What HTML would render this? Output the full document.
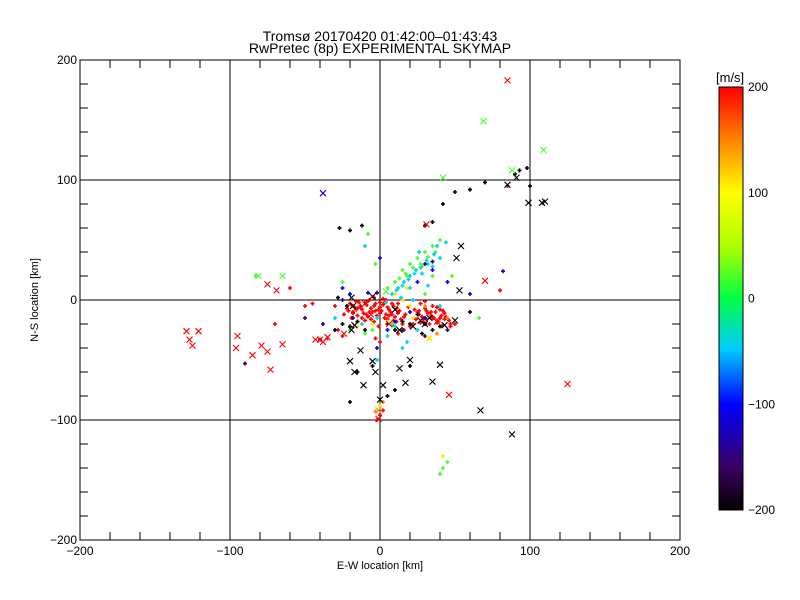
<!DOCTYPE html>
<html><head><meta charset="utf-8"><style>
body{margin:0;background:#fff;}
svg{display:block;font-family:"Liberation Sans","DejaVu Sans",sans-serif;}
</style></head><body>
<svg id="chart" width="800" height="600" viewBox="0 0 800 600">
<defs>
<linearGradient id="cb" x1="0" y1="1" x2="0" y2="0">
<stop offset="0" stop-color="#000"/><stop offset="0.1" stop-color="#3a0060"/><stop offset="0.25" stop-color="#0000ff"/>
<stop offset="0.38" stop-color="#00ccff"/><stop offset="0.5" stop-color="#00ff44"/><stop offset="0.62" stop-color="#aaff00"/>
<stop offset="0.75" stop-color="#ffff00"/><stop offset="0.87" stop-color="#ff8800"/><stop offset="1" stop-color="#ff0000"/>
</linearGradient>
</defs>
<text x="380" y="41" font-size="14" text-anchor="middle">Tromsø 20170420 01:42:00–01:43:43</text>
<text x="380" y="53" font-size="14" text-anchor="middle">RwPretec (8p) EXPERIMENTAL SKYMAP</text>
<g id="axes"></g>
<g id="marks"></g>
<rect x="80" y="60" width="600" height="480" fill="none" stroke="#000" stroke-width="1"/>
<text x="380" y="569" font-size="11" text-anchor="middle">E-W location [km]</text>
<text x="0" y="0" font-size="11" text-anchor="middle" transform="translate(38,300) rotate(-90)">N-S location [km]</text>
<rect x="719" y="87" width="24" height="423" fill="url(#cb)" stroke="#000"/>
<text x="716" y="82" font-size="13">[m/s]</text>
<g id="cbticks"></g>
</svg>
<script>
const xTicks=[-200,-100,0,100,200];
const yTicks=[-200,-100,0,100,200];
const cbTicks=[200,100,0,-100,-200];
const crossX=[85,69,109,42,88,91,85,99,110,108,-38,31,54,51,70,-81,-65,-75,-69,-129,-127,-125,-121,-95,-96,-85,-79,-75,-73,-65,-43,-40,-38,-35,125,46,67,88,-1,-1,33,-13,-17,-20,-5,-3,2,13,17,35,40,20,-17,-19,13,27,33,43,53,-11,0,-19,-5,10,50,4,-10,-6,6,22,30,38,-18,-24];
const crossY=[183,149,125,102,108,102,96,81,82,81,89,63,45,35,16,20,20,13,8,-26,-33,-38,-26,-30,-40,-46,-38,-43,-58,-37,-33,-33,-35,-31,-70,-79,-92,-112,-92,-99,-32,-42,-60,-51,-51,-60,-71,-57,-69,-68,-54,-50,-21,-25,-25,-17,-15,-21,8,-71,-83,2,3,-8,-17,7,-3,-12,-20,-22,-20,-18,-5,-28];
const crossV=[200,20,20,20,20,-200,-200,-200,-200,-200,-110,200,-200,-200,200,20,20,200,200,200,200,200,200,200,200,200,200,200,200,200,200,200,200,200,200,200,-200,-200,150,200,110,-200,-200,-200,-200,-200,-200,-200,-200,-200,-200,-200,-200,-200,-200,-200,-200,-200,-200,-200,-200,-200,-200,-200,-200,20,200,200,200,-200,-200,200,-200,200];
const dotX=[-20,-17,-14,-12,-9,-6,-3,0,3,6,9,12,-18,-15,-11,-8,-5,-2,1,4,7,10,13,-16,-7,2,-22,-24,-10,-4,5,14,17,19,-1,8,15,-13,-19,11,
25,28,31,34,37,40,43,46,29,33,38,42,47,24,36,27,30,35,40,22,
-35,-40,-25,-3,0,-2,2,50,20,16,-30,-45,-60,-70,80,85,-28,0,12,-50,
-19,-16,-13,-10,-7,-4,-1,2,5,8,11,-21,-18,-15,-12,-9,-6,-3,0,3,6,9,-8,-4,0,4,8,12,16,26,29,32,35,38,41,44,27,31,35,39,43,47,23,26,30,34,38,42,
10,15,-5,20,25,33,0,5,-15,18,22,42,
30,45,-3,38,2,
10,15,20,25,30,35,40,28,18,5,12,-10,-5,-20,42,-8,45,30,-25,-83,66,48,-3,40,35,8,13,17,22,27,32,37,
8,12,16,20,24,28,32,36,40,20,14,4,-2,10,25,40,15,-12,-2,32,22,38,44,26,-10,5,18,-30,11,15,19,23,27,31,35,
35,25,-2,30,10,-25,20,5,-8,60,82,-38,-20,0,45,
-18,-25,30,35,15,-50,-90,-2,30,45,
-25,-20,-15,-10,-30,5,10,15,20,25,30,35,40,28,-27,-20,-12,30,35,42,50,60,70,90,98,100,93,-5,-15,-20,5,10,-28,-22,60,20];
const dotY=[-3,-6,-2,-8,-4,-7,-3,-6,-2,-8,-5,-3,-10,-13,-11,-14,-10,-13,-9,-12,-10,-14,-9,-1,0,1,-7,-12,-17,-18,-16,-16,-12,-6,-22,-21,-20,-5,-15,-18,
-10,-14,-9,-13,-10,-15,-11,-17,-18,-20,-19,-21,-22,-16,-15,-3,-1,-5,-8,-20,
-32,-33,-30,-32,-96,-100,-92,-20,-22,-25,-5,-3,10,-20,8,95,-25,-35,-28,-5,
-4,-8,-6,-2,-10,-5,-8,-4,-6,-3,-7,-9,-11,-7,-15,-12,-16,-9,-11,-15,-13,-17,-1,2,-2,0,-12,-11,-14,-12,-16,-11,-14,-17,-13,-14,-19,-16,-15,-18,-16,-20,-8,-9,-7,-10,-6,-9,
5,0,-20,-5,-25,-32,-88,-18,-22,10,-15,-130,
-5,-15,-93,-28,-85,
15,25,30,35,40,45,50,28,20,10,-25,-28,-25,-25,-140,55,-135,5,15,20,-15,20,30,-145,20,-20,18,22,27,30,36,40,
5,10,15,20,25,22,30,38,35,10,2,-2,-15,-22,-25,-5,-40,-20,-50,12,0,45,48,40,45,-30,-35,-15,8,12,17,22,27,33,28,
25,15,-40,-15,-18,10,-10,-25,6,5,24,-20,5,35,15,
-15,0,30,32,-25,-15,-53,6,-30,-25,
-20,-22,-18,-25,-25,-20,-25,-18,-20,-12,-20,-25,-22,-28,60,58,62,62,65,80,90,92,98,105,110,95,108,-55,-60,-85,-80,-75,2,-5,-10,-55];
const dotV=[].concat(Array(40).fill(200),Array(20).fill(200),Array(20).fill(200),Array(48).fill(200),Array(12).fill(110),Array(5).fill(150),Array(32).fill(20),Array(35).fill(-40),Array(15).fill(-110),Array(10).fill(-160),Array(36).fill(-200));

const sx=v=>380+v*1.5, sy=v=>300-v*1.2;
function col(v){
  const st=[[-200,[0,0,0]],[-160,[58,0,96]],[-100,[0,0,255]],[-45,[0,204,255]],[0,[0,255,68]],[50,[170,255,0]],[100,[255,255,0]],[150,[255,136,0]],[200,[255,0,0]]];
  for(let i=1;i<st.length;i++){if(v<=st[i][0]){const a=st[i-1],b=st[i],t=(v-a[0])/(b[0]-a[0]);const c=a[1].map((q,k)=>Math.round(q+(b[1][k]-q)*t));return `rgb(${c})`;}}
  return 'rgb(255,0,0)';
}
const NS='http://www.w3.org/2000/svg';
function mk(tag,at,par){const e=document.createElementNS(NS,tag);for(const k in at)e.setAttribute(k,at[k]);par.appendChild(e);return e;}
const axes=document.getElementById('axes'),marks=document.getElementById('marks'),cbg=document.getElementById('cbticks');
for(let k=-200;k<=200;k+=20){
  let t=mk('line',{x1:sx(k),x2:sx(k),y1:540,y2:532,stroke:'#000'},axes);
  
  t=mk('line',{x1:sx(k),x2:sx(k),y1:60,y2:68,stroke:'#000'},axes);
  
  t=mk('line',{x1:80,x2:88,y1:sy(k),y2:sy(k),stroke:'#000'},axes);
  
  t=mk('line',{x1:672,x2:680,y1:sy(k),y2:sy(k),stroke:'#000'},axes);
  
}
[-100,0,100].forEach(k=>{
  let g=mk('line',{x1:sx(k),x2:sx(k),y1:60,y2:540,stroke:'#000'},axes);
  
  g=mk('line',{x1:80,x2:680,y1:sy(k),y2:sy(k),stroke:'#000'},axes);
  
});
xTicks.forEach(k=>{const t=mk('text',{x:sx(k),y:555,'font-size':12,'text-anchor':'middle'},axes);t.textContent=String(k).replace('-','−');
  });
yTicks.forEach(k=>{const t=mk('text',{x:77,y:sy(k)+4,'font-size':12,'text-anchor':'end'},axes);t.textContent=String(k).replace('-','−');
  });
cbTicks.forEach(k=>{const y=510-(k+200)/400*423;const t=mk('text',{x:748,y:y+4,'font-size':12},cbg);t.textContent=String(k).replace('-','−');
  });
for(let i=0;i<dotX.length;i++){
  const x=sx(dotX[i]),y=sy(dotY[i]),c=col(dotV[i]);
  const p=mk('path',{d:`M${x-2},${y}h4M${x},${y-2}v4`,stroke:c,'stroke-width':1.6},marks);
  
}
for(let i=0;i<crossX.length;i++){
  const x=sx(crossX[i]),y=sy(crossY[i]),c=col(crossV[i]);
  const p=mk('path',{d:`M${x-3},${y-3}l6,6M${x-3},${y+3}l6,-6`,stroke:c,'stroke-width':1.1},marks);
  
}
</script>
</body></html>
